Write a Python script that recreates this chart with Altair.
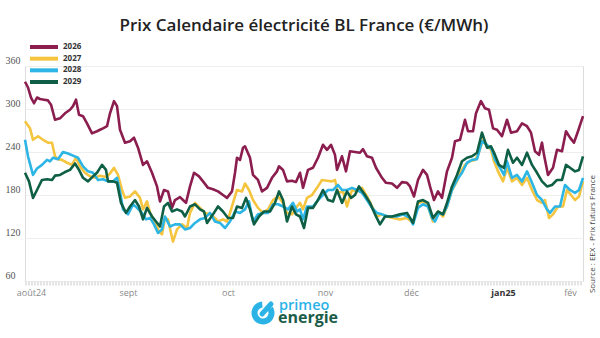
import json
import altair as alt
import pandas as pd

# ---------------- data ----------------
series_names = ["2026", "2027", "2028", "2029"]
series_colors = ["#8b1d4f", "#f5c540", "#2cb5e5", "#0e5f45"]

# (trading-session index, price €/MWh)
pts_2026 = [
    (0, 338), (0.75, 330), (1.5, 316), (2.25, 308), (3, 316), (3.75, 314), (4.75, 313), (5.75, 312), (6.5, 306), (7.5, 285),
    (8.75, 287), (10, 294), (11.25, 299), (12, 304), (12.75, 313), (13.5, 292), (14.5, 290), (15.5, 280), (16.75, 266), (18, 269),
    (18.75, 271), (19.5, 273), (20.5, 276), (21.25, 294), (22.25, 311), (23, 304), (23.75, 271), (25, 253), (26.25, 255), (27.25, 260),
    (28.25, 246), (29.5, 222), (30.5, 227), (31.75, 211), (33, 192), (33.75, 171), (34.75, 187), (35.75, 185), (36.75, 162), (37.5, 173),
    (38.75, 177), (39.5, 173), (40.25, 169), (41.25, 192), (42.25, 211), (43.5, 206), (44.5, 199), (45.75, 190), (47, 188), (48.25, 185),
    (49.5, 180), (50.5, 176), (51.75, 185), (52.5, 211), (53, 232), (53.75, 229), (54.5, 246), (55, 248), (56.25, 232), (57, 208),
    (58.25, 201), (59.25, 185), (60.5, 190), (61.75, 204), (63, 213), (63.5, 220), (64.5, 215), (65.5, 199), (66.75, 200), (67.75, 198),
    (68.75, 211), (69.5, 190), (70.75, 215), (72, 218), (73.25, 232), (74.5, 250), (75.5, 243), (76.5, 250), (77.5, 236), (78, 215),
    (79.25, 234), (80.25, 213), (81.25, 241), (82.5, 240), (83.75, 239), (84.5, 244), (85.5, 234), (86.75, 232), (87.75, 218), (89.25, 204),
    (90.25, 197), (91.75, 196), (93, 190), (94.25, 198), (95.5, 197), (96.25, 192), (97.25, 178), (98.25, 201), (99.5, 215), (100.5, 208),
    (101.25, 192), (102.25, 173), (103.25, 185), (104.25, 176), (105.5, 213), (106.75, 232), (107.5, 255), (108.75, 257), (110, 285), (110.75, 269),
    (112, 269), (112.75, 294), (114, 311), (115, 301), (116, 299), (117, 273), (118, 271), (119.25, 262), (120.5, 285), (121.5, 267),
    (123, 269), (124.25, 280), (125.5, 276), (126.5, 267), (127.5, 241), (128.5, 236), (129.25, 253), (129.75, 236), (130.75, 208), (132, 218),
    (133, 243), (134.25, 241), (135.25, 269), (136.25, 260), (137.25, 253), (138.25, 269), (139.5, 290),
]
pts_2027 = [
    (0, 283), (1.25, 273), (2, 257), (3.25, 262), (4.5, 257), (5.75, 253), (6.75, 253), (7.5, 234), (8.25, 230), (9.25, 229),
    (10.5, 225), (11.75, 222), (12.75, 232), (13.75, 220), (15, 211), (16.25, 206), (17.5, 204), (18.75, 207), (20.25, 205), (21.25, 210),
    (22.25, 218), (23.25, 208), (24.25, 187), (25, 176), (26.25, 178), (27.5, 185), (28.75, 176), (29.5, 160), (30.5, 171), (31.25, 155),
    (32.5, 143), (33.5, 129), (34.25, 125), (35, 148), (35.75, 146), (36.5, 127), (37, 115), (38, 132), (39.25, 139), (40.5, 134),
    (41.25, 155), (42.5, 169), (43.75, 162), (45, 155), (46.25, 153), (47.5, 148), (48.25, 143), (49.5, 146), (50.5, 143), (51.25, 155),
    (52.5, 178), (53, 187), (54.25, 185), (55, 196), (56, 187), (57, 173), (58.25, 162), (59.5, 155), (60.75, 160), (62, 173),
    (63.25, 178), (64.5, 169), (65.5, 155), (66.75, 153), (68, 164), (68.75, 169), (69.5, 160), (70.5, 176), (71.75, 180), (73, 190),
    (74.25, 201), (75.5, 200), (76.75, 199), (77.5, 201), (78.25, 183), (79.5, 185), (80.5, 164), (81.75, 187), (83, 185), (84.25, 190),
    (85.5, 178), (86.75, 164), (88, 150), (89.25, 153), (90.5, 150), (92, 148), (93.75, 146), (95.5, 148), (97, 141), (98.25, 169),
    (99.5, 171), (100.75, 164), (102, 143), (103.25, 157), (104.5, 150), (105.5, 164), (106.75, 187), (108, 199), (109, 213), (110, 222),
    (111.25, 227), (112.5, 229), (113.25, 236), (114.5, 257), (115.5, 248), (116.5, 243), (117.25, 227), (118.25, 213), (119.5, 199), (120.5, 218),
    (121.75, 199), (123, 204), (124.25, 194), (125.5, 204), (126.75, 187), (128, 173), (129.25, 169), (130, 173), (131, 148), (132, 153),
    (133.25, 164), (134.5, 164), (135.5, 187), (136.5, 180), (137.5, 173), (138.5, 178), (139.5, 199),
]
pts_2028 = [
    (0, 257), (0.75, 234), (2, 208), (3, 217), (4.25, 222), (5.5, 229), (6.25, 227), (7, 232), (8.25, 230), (9.5, 240),
    (10.75, 238), (12, 235), (13.25, 232), (14.5, 220), (15.75, 213), (17, 211), (18.25, 201), (19.5, 202), (20.75, 199), (22, 199),
    (23, 204), (23.75, 185), (24.5, 160), (25.75, 153), (27, 167), (28, 162), (29.25, 155), (30.25, 146), (31.25, 148), (32.25, 139),
    (33.25, 127), (34.25, 132), (35, 150), (36.25, 136), (37.5, 139), (38.75, 139), (40, 132), (41.25, 134), (42.5, 141), (43.75, 146),
    (45, 148), (46.25, 155), (47.5, 143), (48.75, 141), (50, 134), (51.25, 143), (52.5, 157), (53.75, 155), (55, 160), (56, 171),
    (57, 143), (58.25, 153), (59.5, 155), (60.75, 155), (62, 167), (63.25, 167), (64.5, 164), (65.75, 160), (67, 169), (68, 157),
    (68.75, 160), (69.5, 146), (70.5, 164), (72, 164), (73.25, 173), (74.5, 180), (75.75, 187), (77, 187), (78.25, 194), (79.25, 187),
    (80.5, 187), (81.75, 190), (83, 187), (84.25, 183), (85.5, 173), (86.75, 162), (88, 155), (89.25, 153), (90.75, 150), (93, 150),
    (94.5, 153), (96.25, 148), (97, 139), (98.25, 162), (99.5, 167), (100.75, 164), (101.75, 148), (102.5, 143), (103.5, 155), (104.5, 153),
    (105.5, 164), (106.75, 187), (108, 201), (109.25, 211), (110.5, 225), (111.75, 229), (113, 230), (114.25, 255), (115.5, 250), (116.75, 243),
    (117.5, 229), (118.75, 218), (119.75, 208), (120.5, 227), (121.75, 204), (123, 208), (124.25, 199), (125.5, 213), (126.75, 197), (128, 180),
    (129.25, 173), (130.5, 160), (131.25, 155), (132.5, 164), (133.75, 164), (135, 194), (136.25, 187), (137.5, 183), (138.5, 187), (139.5, 204),
]
pts_2029 = [
    (0, 211), (1, 199), (2, 176), (3, 187), (4.25, 201), (5.5, 202), (6.75, 201), (7.5, 207), (8.75, 208), (10, 212),
    (11.25, 215), (12.5, 224), (13.5, 215), (14.5, 204), (15.75, 199), (17, 206), (18, 211), (19.25, 222), (20.25, 215), (20.75, 199),
    (22, 199), (23, 197), (24, 169), (25.25, 155), (26.25, 164), (27.5, 173), (28.5, 164), (29.5, 146), (30.5, 162), (31.75, 150),
    (32.75, 143), (33.75, 136), (34.75, 164), (35.75, 169), (36.75, 157), (38, 160), (39.25, 157), (40, 150), (41.25, 164), (42.5, 167),
    (43.75, 160), (44.75, 157), (45.5, 141), (47, 153), (48.25, 164), (49.5, 157), (50.75, 148), (52, 148), (53, 164), (54.25, 162),
    (55.25, 176), (56.25, 160), (57.25, 139), (58.5, 150), (59.75, 157), (61.25, 157), (62.5, 169), (63.5, 185), (64.5, 173), (65.5, 143),
    (66.75, 164), (67.75, 153), (68.75, 150), (69.75, 134), (70.75, 162), (72, 162), (73.25, 173), (74.5, 187), (75.75, 173), (77, 171),
    (78, 187), (79.25, 169), (80.5, 185), (81.5, 176), (82.5, 180), (83.5, 192), (85, 180), (86.25, 169), (87.5, 153), (88.75, 139),
    (90, 150), (91.75, 150), (93.75, 153), (95.5, 155), (97, 141), (98.25, 171), (99.5, 173), (100.75, 169), (102, 148), (103.25, 157),
    (104.5, 153), (105.5, 169), (106.75, 192), (108, 208), (109.25, 227), (110.5, 232), (111.75, 234), (113, 239), (114.25, 267), (115.5, 246),
    (116.5, 248), (117.5, 236), (118.5, 222), (119.75, 218), (120.75, 243), (122, 225), (123, 232), (124.25, 222), (125.5, 239), (126.75, 222),
    (128, 211), (129.25, 199), (130.5, 192), (131.75, 194), (133, 201), (134.25, 201), (135.25, 222), (136.25, 218), (137.5, 213), (138.5, 215),
    (139.5, 234),
]

x_tick_pos = [1.5, 25.75, 50.75, 75, 96.5, 119.5, 136.25]
x_tick_labels = ["août24", "sept", "oct", "nov", "déc", "jan25", "fév"]
x_bold_label = "jan25"
y_ticks = [60, 120, 180, 240, 300, 360]

title_text = "Prix Calendaire électricité BL France (€/MWh)"
source_text = "Source : EEX - Prix futurs France"
brand_top = "primeo"
brand_bottom = "energie"

# ---------------- build table ----------------
frames = []
for name, pts in zip(series_names, [pts_2026, pts_2027, pts_2028, pts_2029]):
    frames.append(pd.DataFrame({"seance": [p[0] for p in pts],
                                "prix": [p[1] for p in pts],
                                "serie": name}))
df = pd.concat(frames, ignore_index=True)
legend_df = pd.DataFrame({"serie": series_names})

label_expr = "{}[indexof({}, datum.value)]".format(
    json.dumps(x_tick_labels, ensure_ascii=False), json.dumps(x_tick_pos))
bold_pos = x_tick_pos[x_tick_labels.index(x_bold_label)]

W, H = 558, 215
color_scale = alt.Scale(domain=series_names, range=series_colors)

lines = alt.Chart(df).mark_line(strokeWidth=2.6, strokeJoin="round").encode(
    x=alt.X("seance:Q",
            scale=alt.Scale(domain=[0, 139.5], nice=False, zero=False),
            axis=alt.Axis(values=x_tick_pos, labelExpr=label_expr, title=None,
                          grid=False, ticks=False, domainColor="#c9c9c9",
                          domainDash=[1, 2], domainWidth=4, offset=2,
                          labelFont="Open Sans", labelFontSize=9, labelPadding=5,
                          labelColor=alt.expr(f"datum.value == {bold_pos} ? '#333333' : '#8a8a8a'"),
                          labelFontWeight=alt.expr(f"datum.value == {bold_pos} ? 'bold' : 'normal'"),
                          labelFlush=False)),
    y=alt.Y("prix:Q",
            scale=alt.Scale(domain=[60, 360], nice=False, zero=False),
            axis=alt.Axis(values=y_ticks, title=None, ticks=False, domain=False,
                          gridColor="#eeeeee", gridWidth=1,
                          labelAlign="left", labelPadding=20, labelBaseline="middle",
                          labelOffset=-6, labelFont="Liberation Sans Narrow",
                          labelFontSize=10, labelColor="#555555")),
    color=alt.Color("serie:N", scale=color_scale, legend=None),
)

# legend drawn from the series list (top-left, as in the reference)
leg_y = alt.Y("serie:N", axis=None,
              scale=alt.Scale(type="point", domain=series_names, range=[-19, 16], padding=0))
leg_rules = alt.Chart(legend_df).mark_rule(strokeWidth=4).encode(
    x=alt.value(5), x2=alt.value(33), y=leg_y,
    color=alt.Color("serie:N", scale=color_scale, legend=None))
leg_text = alt.Chart(legend_df).mark_text(align="left", baseline="middle", fontSize=8,
                                          font="Open Sans", fontWeight="bold",
                                          color="#333333").encode(
    x=alt.value(38), y=leg_y, text="serie:N")

one = pd.DataFrame({"k": [0]})

source = alt.Chart(one).mark_text(text=source_text, angle=270, fontSize=8,
                                  font="Open Sans", color="#444444").encode(
    x=alt.value(568), y=alt.value(168))

logo_arc = alt.Chart(one).mark_arc(radius=11.5, radius2=5.5, theta=1.0, theta2=6.2,
                                   color="#2bb3e6").encode(
    x=alt.value(238), y=alt.value(247))
logo_slash = alt.Chart(one).mark_rule(strokeWidth=5, strokeCap="round",
                                      color="#2bb3e6").encode(
    x=alt.value(237), y=alt.value(248), x2=alt.value(246), y2=alt.value(238))
logo_top = alt.Chart(one).mark_text(text=brand_top, align="left", baseline="alphabetic",
                                    fontSize=14.5, font="Open Sans", fontWeight=600,
                                    color="#2bb3e6").encode(
    x=alt.value(254), y=alt.value(244))
logo_bottom = alt.Chart(one).mark_text(text=brand_bottom, align="left", baseline="alphabetic",
                                       fontSize=16, font="Open Sans", fontWeight="bold",
                                       color="#1b5c48").encode(
    x=alt.value(253), y=alt.value(257))

chart = alt.layer(lines, leg_rules, leg_text, source, logo_arc, logo_slash,
                  logo_top, logo_bottom).resolve_scale(y="independent").properties(
    width=W, height=H,
    title=alt.TitleParams(text=title_text, fontSize=17, font="Open Sans", fontWeight=600,
                          color="#222222", anchor="middle", offset=8),
    autosize=alt.AutoSizeParams(type="none"),
    padding={"left": 25, "top": 66, "right": 17, "bottom": 57},
).configure_view(stroke=None).configure(background="white")

chart.save("out.html", embed_options={"renderer": "svg", "actions": False})
